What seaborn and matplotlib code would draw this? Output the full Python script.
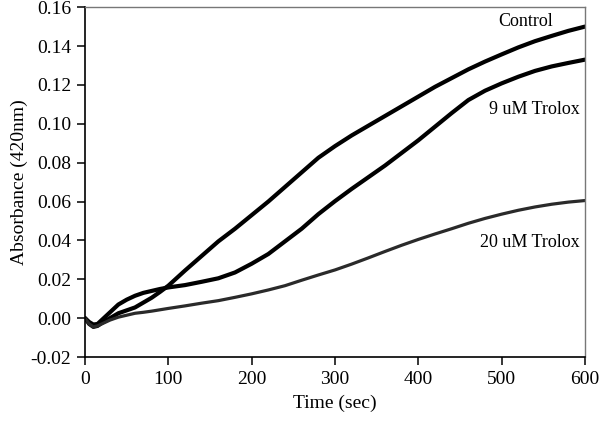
import pandas as pd
import matplotlib
matplotlib.use("Agg")
import matplotlib.pyplot as plt
import seaborn as sns

# --- DATA ---
time_sec = [0, 5, 10, 15, 20, 30, 40, 50, 60, 70, 80, 90, 100, 120, 140, 160, 180,
            200, 220, 240, 260, 280, 300, 320, 340, 360, 380, 400, 420, 440, 460,
            480, 500, 520, 540, 560, 580, 600]

control = [0.000, -0.003, -0.0045, -0.004, -0.0025, 0.000, 0.0025, 0.004, 0.0055,
           0.008, 0.0105, 0.0135, 0.0167, 0.0245, 0.032, 0.0395, 0.046, 0.053,
           0.060, 0.0675, 0.075, 0.0825, 0.0885, 0.094, 0.099, 0.104, 0.109, 0.114,
           0.119, 0.1235, 0.128, 0.132, 0.1357, 0.1393, 0.1425, 0.1452, 0.1478, 0.150]

trolox_9 = [0.000, -0.002, -0.0033, -0.003, -0.001, 0.003, 0.007, 0.0095, 0.0115,
            0.013, 0.014, 0.015, 0.0158, 0.017, 0.0187, 0.0205, 0.0235, 0.028,
            0.033, 0.0395, 0.046, 0.0535, 0.0602, 0.0665, 0.0725, 0.0785, 0.085,
            0.0915, 0.0985, 0.1055, 0.1122, 0.117, 0.1208, 0.1242, 0.1272, 0.1295,
            0.1313, 0.133]

trolox_20 = [0.000, -0.003, -0.0045, -0.004, -0.003, -0.001, 0.0005, 0.0015, 0.0025,
             0.003, 0.0036, 0.0043, 0.005, 0.0063, 0.0077, 0.009, 0.0107, 0.0125,
             0.0145, 0.0167, 0.0195, 0.0222, 0.0248, 0.0278, 0.031, 0.0343, 0.0375,
             0.0405, 0.0433, 0.046, 0.0488, 0.0513, 0.0535, 0.0555, 0.0572, 0.0586,
             0.0597, 0.0605]

series_names = ["Control", "9 uM Trolox", "20 uM Trolox"]
label_pos = [(562, 0.1527), (594, 0.1075), (593, 0.0387)]

y_ticks = [-0.02, 0.00, 0.02, 0.04, 0.06, 0.08, 0.10, 0.12, 0.14, 0.16]
x_ticks = [0, 100, 200, 300, 400, 500, 600]

df = pd.DataFrame({
    "Time": time_sec * 3,
    "Absorbance": control + trolox_9 + trolox_20,
    "Sample": [n for n in series_names for _ in time_sec],
})

sns.set_theme(style="ticks")
plt.rcParams["font.family"] = ["Liberation Serif", "DejaVu Serif"]

fig = plt.figure(figsize=(6.0, 4.21), dpi=100)
ax = fig.add_axes([0.1417, 0.152, 0.8333, 0.831])

styles = {"Control": ("black", 3.0), "9 uM Trolox": ("black", 3.0),
          "20 uM Trolox": ("#2a2a2a", 2.3)}
for name in series_names:
    color, lw = styles[name]
    sns.lineplot(data=df[df["Sample"] == name], x="Time", y="Absorbance",
                 color=color, linewidth=lw, ax=ax, legend=False,
                 solid_capstyle="round", solid_joinstyle="round")

for name, (tx, ty) in zip(series_names, label_pos):
    ax.text(tx, ty, name, ha="right", va="center", fontsize=13, color="black")

ax.set_xlim(0, 600)
ax.set_ylim(-0.02, 0.16)
ax.set_xticks(x_ticks)
ax.set_yticks(y_ticks)
ax.set_xticklabels([str(v) for v in x_ticks])
ax.set_yticklabels([f"{v:.2f}" for v in y_ticks])
ax.tick_params(axis="both", direction="out", length=6, width=1.1,
               labelsize=14, colors="black", pad=4)
ax.set_xlabel("Time (sec)", fontsize=14, color="black", labelpad=5)
ax.set_ylabel("Absorbance (420nm)", fontsize=14, color="black", labelpad=2)

for side in ["left", "bottom"]:
    ax.spines[side].set_color("black")
    ax.spines[side].set_linewidth(1.2)
for side in ["top", "right"]:
    ax.spines[side].set_visible(True)
    ax.spines[side].set_color("#777777")
    ax.spines[side].set_linewidth(1.0)

fig.savefig("out.png", dpi=100)
